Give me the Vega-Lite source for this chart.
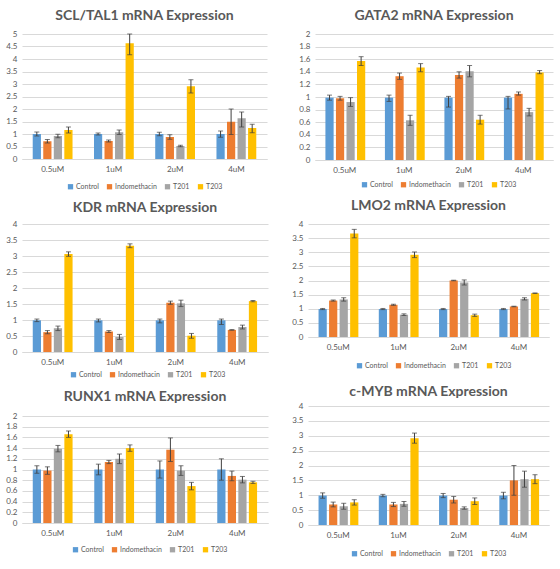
{
 "$schema": "https://vega.github.io/schema/vega-lite/v6.json",
 "background": "white",
 "padding": {"left": 5, "top": 9, "right": 5, "bottom": 0},
 "datasets": {
  "expr": [
   {"gene":"SCL/TAL1","dose":"0.5uM","treatment":"Control","value":1.00,"lo":0.92,"hi":1.08},
   {"gene":"SCL/TAL1","dose":"0.5uM","treatment":"Indomethacin","value":0.71,"lo":0.64,"hi":0.78},
   {"gene":"SCL/TAL1","dose":"0.5uM","treatment":"T201","value":0.92,"lo":0.85,"hi":0.99},
   {"gene":"SCL/TAL1","dose":"0.5uM","treatment":"T203","value":1.16,"lo":1.04,"hi":1.28},
   {"gene":"SCL/TAL1","dose":"1uM","treatment":"Control","value":1.00,"lo":0.96,"hi":1.04},
   {"gene":"SCL/TAL1","dose":"1uM","treatment":"Indomethacin","value":0.72,"lo":0.68,"hi":0.76},
   {"gene":"SCL/TAL1","dose":"1uM","treatment":"T201","value":1.07,"lo":0.98,"hi":1.16},
   {"gene":"SCL/TAL1","dose":"1uM","treatment":"T203","value":4.63,"lo":4.17,"hi":5.0},
   {"gene":"SCL/TAL1","dose":"2uM","treatment":"Control","value":1.00,"lo":0.93,"hi":1.07},
   {"gene":"SCL/TAL1","dose":"2uM","treatment":"Indomethacin","value":0.88,"lo":0.79,"hi":0.97},
   {"gene":"SCL/TAL1","dose":"2uM","treatment":"T201","value":0.52,"lo":0.49,"hi":0.55},
   {"gene":"SCL/TAL1","dose":"2uM","treatment":"T203","value":2.91,"lo":2.64,"hi":3.17},
   {"gene":"SCL/TAL1","dose":"4uM","treatment":"Control","value":1.00,"lo":0.87,"hi":1.12},
   {"gene":"SCL/TAL1","dose":"4uM","treatment":"Indomethacin","value":1.49,"lo":0.98,"hi":2.0},
   {"gene":"SCL/TAL1","dose":"4uM","treatment":"T201","value":1.63,"lo":1.28,"hi":1.88},
   {"gene":"SCL/TAL1","dose":"4uM","treatment":"T203","value":1.24,"lo":1.05,"hi":1.39},

   {"gene":"GATA2","dose":"0.5uM","treatment":"Control","value":0.99,"lo":0.95,"hi":1.03},
   {"gene":"GATA2","dose":"0.5uM","treatment":"Indomethacin","value":0.98,"lo":0.95,"hi":1.01},
   {"gene":"GATA2","dose":"0.5uM","treatment":"T201","value":0.92,"lo":0.85,"hi":0.99},
   {"gene":"GATA2","dose":"0.5uM","treatment":"T203","value":1.57,"lo":1.50,"hi":1.64},
   {"gene":"GATA2","dose":"1uM","treatment":"Control","value":0.99,"lo":0.93,"hi":1.03},
   {"gene":"GATA2","dose":"1uM","treatment":"Indomethacin","value":1.33,"lo":1.28,"hi":1.38},
   {"gene":"GATA2","dose":"1uM","treatment":"T201","value":0.63,"lo":0.55,"hi":0.71},
   {"gene":"GATA2","dose":"1uM","treatment":"T203","value":1.47,"lo":1.40,"hi":1.53},
   {"gene":"GATA2","dose":"2uM","treatment":"Control","value":0.99,"lo":0.84,"hi":1.01},
   {"gene":"GATA2","dose":"2uM","treatment":"Indomethacin","value":1.35,"lo":1.30,"hi":1.40},
   {"gene":"GATA2","dose":"2uM","treatment":"T201","value":1.41,"lo":1.32,"hi":1.50},
   {"gene":"GATA2","dose":"2uM","treatment":"T203","value":0.64,"lo":0.57,"hi":0.71},
   {"gene":"GATA2","dose":"4uM","treatment":"Control","value":0.99,"lo":0.81,"hi":1.01},
   {"gene":"GATA2","dose":"4uM","treatment":"Indomethacin","value":1.05,"lo":1.03,"hi":1.08},
   {"gene":"GATA2","dose":"4uM","treatment":"T201","value":0.76,"lo":0.70,"hi":0.82},
   {"gene":"GATA2","dose":"4uM","treatment":"T203","value":1.39,"lo":1.37,"hi":1.42},

   {"gene":"KDR","dose":"0.5uM","treatment":"Control","value":0.99,"lo":0.95,"hi":1.03},
   {"gene":"KDR","dose":"0.5uM","treatment":"Indomethacin","value":0.62,"lo":0.57,"hi":0.67},
   {"gene":"KDR","dose":"0.5uM","treatment":"T201","value":0.74,"lo":0.67,"hi":0.81},
   {"gene":"KDR","dose":"0.5uM","treatment":"T203","value":3.06,"lo":2.99,"hi":3.13},
   {"gene":"KDR","dose":"1uM","treatment":"Control","value":0.99,"lo":0.94,"hi":1.03},
   {"gene":"KDR","dose":"1uM","treatment":"Indomethacin","value":0.64,"lo":0.61,"hi":0.67},
   {"gene":"KDR","dose":"1uM","treatment":"T201","value":0.47,"lo":0.39,"hi":0.55},
   {"gene":"KDR","dose":"1uM","treatment":"T203","value":3.32,"lo":3.26,"hi":3.38},
   {"gene":"KDR","dose":"2uM","treatment":"Control","value":0.99,"lo":0.91,"hi":1.03},
   {"gene":"KDR","dose":"2uM","treatment":"Indomethacin","value":1.54,"lo":1.49,"hi":1.59},
   {"gene":"KDR","dose":"2uM","treatment":"T201","value":1.52,"lo":1.42,"hi":1.62},
   {"gene":"KDR","dose":"2uM","treatment":"T203","value":0.51,"lo":0.43,"hi":0.58},
   {"gene":"KDR","dose":"4uM","treatment":"Control","value":0.99,"lo":0.86,"hi":1.03},
   {"gene":"KDR","dose":"4uM","treatment":"Indomethacin","value":0.69,"lo":0.68,"hi":0.70},
   {"gene":"KDR","dose":"4uM","treatment":"T201","value":0.78,"lo":0.72,"hi":0.84},
   {"gene":"KDR","dose":"4uM","treatment":"T203","value":1.59,"lo":1.57,"hi":1.61},

   {"gene":"LMO2","dose":"0.5uM","treatment":"Control","value":0.99,"lo":0.97,"hi":1.01},
   {"gene":"LMO2","dose":"0.5uM","treatment":"Indomethacin","value":1.29,"lo":1.27,"hi":1.31},
   {"gene":"LMO2","dose":"0.5uM","treatment":"T201","value":1.33,"lo":1.27,"hi":1.39},
   {"gene":"LMO2","dose":"0.5uM","treatment":"T203","value":3.66,"lo":3.51,"hi":3.81},
   {"gene":"LMO2","dose":"1uM","treatment":"Control","value":0.99,"lo":0.97,"hi":1.01},
   {"gene":"LMO2","dose":"1uM","treatment":"Indomethacin","value":1.14,"lo":1.12,"hi":1.16},
   {"gene":"LMO2","dose":"1uM","treatment":"T201","value":0.79,"lo":0.76,"hi":0.82},
   {"gene":"LMO2","dose":"1uM","treatment":"T203","value":2.91,"lo":2.81,"hi":3.01},
   {"gene":"LMO2","dose":"2uM","treatment":"Control","value":0.99,"lo":0.97,"hi":1.01},
   {"gene":"LMO2","dose":"2uM","treatment":"Indomethacin","value":2.00,"lo":1.99,"hi":2.01},
   {"gene":"LMO2","dose":"2uM","treatment":"T201","value":1.93,"lo":1.84,"hi":2.02},
   {"gene":"LMO2","dose":"2uM","treatment":"T203","value":0.77,"lo":0.73,"hi":0.81},
   {"gene":"LMO2","dose":"4uM","treatment":"Control","value":0.99,"lo":0.97,"hi":1.01},
   {"gene":"LMO2","dose":"4uM","treatment":"Indomethacin","value":1.08,"lo":1.07,"hi":1.09},
   {"gene":"LMO2","dose":"4uM","treatment":"T201","value":1.35,"lo":1.31,"hi":1.39},
   {"gene":"LMO2","dose":"4uM","treatment":"T203","value":1.55,"lo":1.54,"hi":1.56},

   {"gene":"RUNX1","dose":"0.5uM","treatment":"Control","value":1.00,"lo":0.93,"hi":1.07},
   {"gene":"RUNX1","dose":"0.5uM","treatment":"Indomethacin","value":0.98,"lo":0.91,"hi":1.05},
   {"gene":"RUNX1","dose":"0.5uM","treatment":"T201","value":1.39,"lo":1.33,"hi":1.45},
   {"gene":"RUNX1","dose":"0.5uM","treatment":"T203","value":1.66,"lo":1.60,"hi":1.72},
   {"gene":"RUNX1","dose":"1uM","treatment":"Control","value":1.00,"lo":0.90,"hi":1.10},
   {"gene":"RUNX1","dose":"1uM","treatment":"Indomethacin","value":1.14,"lo":1.11,"hi":1.17},
   {"gene":"RUNX1","dose":"1uM","treatment":"T201","value":1.20,"lo":1.11,"hi":1.29},
   {"gene":"RUNX1","dose":"1uM","treatment":"T203","value":1.40,"lo":1.34,"hi":1.46},
   {"gene":"RUNX1","dose":"2uM","treatment":"Control","value":1.00,"lo":0.84,"hi":1.16},
   {"gene":"RUNX1","dose":"2uM","treatment":"Indomethacin","value":1.37,"lo":1.15,"hi":1.59},
   {"gene":"RUNX1","dose":"2uM","treatment":"T201","value":0.98,"lo":0.89,"hi":1.07},
   {"gene":"RUNX1","dose":"2uM","treatment":"T203","value":0.69,"lo":0.62,"hi":0.76},
   {"gene":"RUNX1","dose":"4uM","treatment":"Control","value":1.00,"lo":0.80,"hi":1.20},
   {"gene":"RUNX1","dose":"4uM","treatment":"Indomethacin","value":0.88,"lo":0.79,"hi":0.97},
   {"gene":"RUNX1","dose":"4uM","treatment":"T201","value":0.81,"lo":0.75,"hi":0.87},
   {"gene":"RUNX1","dose":"4uM","treatment":"T203","value":0.76,"lo":0.74,"hi":0.78},

   {"gene":"c-MYB","dose":"0.5uM","treatment":"Control","value":0.99,"lo":0.90,"hi":1.08},
   {"gene":"c-MYB","dose":"0.5uM","treatment":"Indomethacin","value":0.69,"lo":0.61,"hi":0.77},
   {"gene":"c-MYB","dose":"0.5uM","treatment":"T201","value":0.63,"lo":0.53,"hi":0.73},
   {"gene":"c-MYB","dose":"0.5uM","treatment":"T203","value":0.76,"lo":0.67,"hi":0.85},
   {"gene":"c-MYB","dose":"1uM","treatment":"Control","value":0.99,"lo":0.95,"hi":1.03},
   {"gene":"c-MYB","dose":"1uM","treatment":"Indomethacin","value":0.69,"lo":0.62,"hi":0.76},
   {"gene":"c-MYB","dose":"1uM","treatment":"T201","value":0.71,"lo":0.63,"hi":0.79},
   {"gene":"c-MYB","dose":"1uM","treatment":"T203","value":2.92,"lo":2.75,"hi":3.09},
   {"gene":"c-MYB","dose":"2uM","treatment":"Control","value":0.99,"lo":0.92,"hi":1.06},
   {"gene":"c-MYB","dose":"2uM","treatment":"Indomethacin","value":0.85,"lo":0.74,"hi":0.96},
   {"gene":"c-MYB","dose":"2uM","treatment":"T201","value":0.57,"lo":0.53,"hi":0.61},
   {"gene":"c-MYB","dose":"2uM","treatment":"T203","value":0.80,"lo":0.69,"hi":0.91},
   {"gene":"c-MYB","dose":"4uM","treatment":"Control","value":0.99,"lo":0.88,"hi":1.10},
   {"gene":"c-MYB","dose":"4uM","treatment":"Indomethacin","value":1.50,"lo":1.00,"hi":2.00},
   {"gene":"c-MYB","dose":"4uM","treatment":"T201","value":1.54,"lo":1.27,"hi":1.81},
   {"gene":"c-MYB","dose":"4uM","treatment":"T203","value":1.54,"lo":1.39,"hi":1.69}
  ]
 },
 "config": {
  "view": {"stroke": null},
  "font": "Lato",
  "title": {"fontSize": 14, "fontWeight": "bold", "color": "#595959", "offset": 10},
  "axis": {"labelColor": "#595959", "labelFontSize": 8, "ticks": false, "gridColor": "#D9D9D9", "domainColor": "#D9D9D9"},
  "axisY": {"domain": false, "labelPadding": 5},
  "axisX": {"grid": false, "labelAngle": 0, "labelPadding": 6},
  "legend": {"orient": "none", "direction": "horizontal", "symbolType": "square", "symbolSize": 28, "symbolStrokeWidth": 0, "labelFontSize": 7, "labelColor": "#595959", "columnPadding": 7, "labelOffset": 2, "title": null},
  "rule": {"color": "#404040", "strokeWidth": 1},
  "tick": {"color": "#404040", "thickness": 1, "size": 5}
 },
 "spacing": 9,
 "resolve": {"scale": {"color": "independent", "y": "independent", "x": "independent"}, "legend": {"color": "independent"}},
 "vconcat": [
  {
   "spacing": 31,
   "resolve": {"scale": {"color": "independent", "y": "independent", "x": "independent"}, "legend": {"color": "independent"}},
   "hconcat": [
    {
     "width": 245, "height": 125,
     "title": {"text": "SCL/TAL1 mRNA Expression", "offset": 7},
     "data": {"name": "expr"},
     "transform": [{"filter": "datum.gene === 'SCL/TAL1'"}],
     "encoding": {
      "x": {"field": "dose", "type": "nominal", "sort": ["0.5uM","1uM","2uM","4uM"], "title": null, "scale": {"paddingInner": 0.35, "paddingOuter": 0.175}},
      "xOffset": {"field": "treatment", "type": "nominal", "sort": ["Control","Indomethacin","T201","T203"], "scale": {"paddingInner": 0.22}}
     },
     "layer": [
      {"mark": "bar", "encoding": {
        "y": {"field": "value", "type": "quantitative", "title": null, "scale": {"domain": [0, 5], "nice": false}, "axis": {"values": [0,0.5,1,1.5,2,2.5,3,3.5,4,4.5,5], "format": "~g"}},
        "color": {"field": "treatment", "type": "nominal", "sort": ["Control","Indomethacin","T201","T203"], "scale": {"domain": ["Control","Indomethacin","T201","T203"], "range": ["#5B9BD5","#ED7D31","#A5A5A5","#FFC000"]}, "legend": {"legendX": 45, "legendY": 149}}
      }},
      {"mark": "rule", "encoding": {"y": {"field": "lo", "type": "quantitative", "title": null, "scale": {"domain": [0, 5], "nice": false}, "axis": {"values": [0,0.5,1,1.5,2,2.5,3,3.5,4,4.5,5], "format": "~g"}}, "y2": {"field": "hi"}}},
      {"mark": "tick", "encoding": {"y": {"field": "lo", "type": "quantitative", "title": null, "scale": {"domain": [0, 5], "nice": false}, "axis": {"values": [0,0.5,1,1.5,2,2.5,3,3.5,4,4.5,5], "format": "~g"}}}},
      {"mark": "tick", "encoding": {"y": {"field": "hi", "type": "quantitative", "title": null, "scale": {"domain": [0, 5], "nice": false}, "axis": {"values": [0,0.5,1,1.5,2,2.5,3,3.5,4,4.5,5], "format": "~g"}}}}
     ]
    },
    {
     "width": 238, "height": 126,
     "title": {"text": "GATA2 mRNA Expression", "offset": 7},
     "data": {"name": "expr"},
     "transform": [{"filter": "datum.gene === 'GATA2'"}],
     "encoding": {
      "x": {"field": "dose", "type": "nominal", "sort": ["0.5uM","1uM","2uM","4uM"], "title": null, "scale": {"paddingInner": 0.35, "paddingOuter": 0.175}},
      "xOffset": {"field": "treatment", "type": "nominal", "sort": ["Control","Indomethacin","T201","T203"], "scale": {"paddingInner": 0.22}}
     },
     "layer": [
      {"mark": "bar", "encoding": {
        "y": {"field": "value", "type": "quantitative", "title": null, "scale": {"domain": [0, 2], "nice": false}, "axis": {"values": [0,0.2,0.4,0.6,0.8,1,1.2,1.4,1.6,1.8,2], "format": "~g"}},
        "color": {"field": "treatment", "type": "nominal", "sort": ["Control","Indomethacin","T201","T203"], "scale": {"domain": ["Control","Indomethacin","T201","T203"], "range": ["#5B9BD5","#ED7D31","#A5A5A5","#FFC000"]}, "legend": {"legendX": 46, "legendY": 147}}
      }},
      {"mark": "rule", "encoding": {"y": {"field": "lo", "type": "quantitative", "title": null, "scale": {"domain": [0, 2], "nice": false}, "axis": {"values": [0,0.2,0.4,0.6,0.8,1,1.2,1.4,1.6,1.8,2], "format": "~g"}}, "y2": {"field": "hi"}}},
      {"mark": "tick", "encoding": {"y": {"field": "lo", "type": "quantitative", "title": null, "scale": {"domain": [0, 2], "nice": false}, "axis": {"values": [0,0.2,0.4,0.6,0.8,1,1.2,1.4,1.6,1.8,2], "format": "~g"}}}},
      {"mark": "tick", "encoding": {"y": {"field": "hi", "type": "quantitative", "title": null, "scale": {"domain": [0, 2], "nice": false}, "axis": {"values": [0,0.2,0.4,0.6,0.8,1,1.2,1.4,1.6,1.8,2], "format": "~g"}}}}
     ]
    }
   ]
  },
  {
   "spacing": 7,
   "resolve": {"scale": {"color": "independent", "y": "independent", "x": "independent"}, "legend": {"color": "independent"}},
   "vconcat": [
    {
     "spacing": 23,
     "resolve": {"scale": {"color": "independent", "y": "independent", "x": "independent"}, "legend": {"color": "independent"}},
     "hconcat": [
      {
       "width": 246, "height": 128,
       "title": {"text": "KDR mRNA Expression", "offset": 5},
       "data": {"name": "expr"},
       "transform": [{"filter": "datum.gene === 'KDR'"}],
       "encoding": {
        "x": {"field": "dose", "type": "nominal", "sort": ["0.5uM","1uM","2uM","4uM"], "title": null, "scale": {"paddingInner": 0.35, "paddingOuter": 0.175}},
        "xOffset": {"field": "treatment", "type": "nominal", "sort": ["Control","Indomethacin","T201","T203"], "scale": {"paddingInner": 0.22}}
       },
       "layer": [
        {"mark": "bar", "encoding": {
          "y": {"field": "value", "type": "quantitative", "title": null, "scale": {"domain": [0, 4], "nice": false}, "axis": {"values": [0,0.5,1,1.5,2,2.5,3,3.5,4], "format": "~g"}},
          "color": {"field": "treatment", "type": "nominal", "sort": ["Control","Indomethacin","T201","T203"], "scale": {"domain": ["Control","Indomethacin","T201","T203"], "range": ["#5B9BD5","#ED7D31","#A5A5A5","#FFC000"]}, "legend": {"legendX": 48, "legendY": 147}}
        }},
        {"mark": "rule", "encoding": {"y": {"field": "lo", "type": "quantitative", "title": null, "scale": {"domain": [0, 4], "nice": false}, "axis": {"values": [0,0.5,1,1.5,2,2.5,3,3.5,4], "format": "~g"}}, "y2": {"field": "hi"}}},
        {"mark": "tick", "encoding": {"y": {"field": "lo", "type": "quantitative", "title": null, "scale": {"domain": [0, 4], "nice": false}, "axis": {"values": [0,0.5,1,1.5,2,2.5,3,3.5,4], "format": "~g"}}}},
        {"mark": "tick", "encoding": {"y": {"field": "hi", "type": "quantitative", "title": null, "scale": {"domain": [0, 4], "nice": false}, "axis": {"values": [0,0.5,1,1.5,2,2.5,3,3.5,4], "format": "~g"}}}}
       ]
      },
      {
       "width": 241, "height": 113,
       "title": {"text": "LMO2 mRNA Expression", "offset": 7},
       "data": {"name": "expr"},
       "transform": [{"filter": "datum.gene === 'LMO2'"}],
       "encoding": {
        "x": {"field": "dose", "type": "nominal", "sort": ["0.5uM","1uM","2uM","4uM"], "title": null, "scale": {"paddingInner": 0.35, "paddingOuter": 0.175}},
        "xOffset": {"field": "treatment", "type": "nominal", "sort": ["Control","Indomethacin","T201","T203"], "scale": {"paddingInner": 0.22}}
       },
       "layer": [
        {"mark": "bar", "encoding": {
          "y": {"field": "value", "type": "quantitative", "title": null, "scale": {"domain": [0, 4], "nice": false}, "axis": {"values": [0,0.5,1,1.5,2,2.5,3,3.5,4], "format": "~g"}},
          "color": {"field": "treatment", "type": "nominal", "sort": ["Control","Indomethacin","T201","T203"], "scale": {"domain": ["Control","Indomethacin","T201","T203"], "range": ["#5B9BD5","#ED7D31","#A5A5A5","#FFC000"]}, "legend": {"legendX": 48, "legendY": 138}}
        }},
        {"mark": "rule", "encoding": {"y": {"field": "lo", "type": "quantitative", "title": null, "scale": {"domain": [0, 4], "nice": false}, "axis": {"values": [0,0.5,1,1.5,2,2.5,3,3.5,4], "format": "~g"}}, "y2": {"field": "hi"}}},
        {"mark": "tick", "encoding": {"y": {"field": "lo", "type": "quantitative", "title": null, "scale": {"domain": [0, 4], "nice": false}, "axis": {"values": [0,0.5,1,1.5,2,2.5,3,3.5,4], "format": "~g"}}}},
        {"mark": "tick", "encoding": {"y": {"field": "hi", "type": "quantitative", "title": null, "scale": {"domain": [0, 4], "nice": false}, "axis": {"values": [0,0.5,1,1.5,2,2.5,3,3.5,4], "format": "~g"}}}}
       ]
      }
     ]
    },
    {
     "spacing": 23,
     "resolve": {"scale": {"color": "independent", "y": "independent", "x": "independent"}, "legend": {"color": "independent"}},
     "hconcat": [
      {
       "width": 246, "height": 117,
       "title": {"text": "RUNX1 mRNA Expression", "offset": 2},
       "data": {"name": "expr"},
       "transform": [{"filter": "datum.gene === 'RUNX1'"}],
       "encoding": {
        "x": {"field": "dose", "type": "nominal", "sort": ["0.5uM","1uM","2uM","4uM"], "title": null, "scale": {"paddingInner": 0.35, "paddingOuter": 0.175}},
        "xOffset": {"field": "treatment", "type": "nominal", "sort": ["Control","Indomethacin","T201","T203"], "scale": {"paddingInner": 0.22}}
       },
       "layer": [
        {"mark": "bar", "encoding": {
          "y": {"field": "value", "type": "quantitative", "title": null, "scale": {"domain": [0, 2.187], "nice": false}, "axis": {"values": [0,0.2,0.4,0.6,0.8,1,1.2,1.4,1.6,1.8,2], "format": "~g"}},
          "color": {"field": "treatment", "type": "nominal", "sort": ["Control","Indomethacin","T201","T203"], "scale": {"domain": ["Control","Indomethacin","T201","T203"], "range": ["#5B9BD5","#ED7D31","#A5A5A5","#FFC000"]}, "legend": {"legendX": 50, "legendY": 140}}
        }},
        {"mark": "rule", "encoding": {"y": {"field": "lo", "type": "quantitative", "title": null, "scale": {"domain": [0, 2.187], "nice": false}, "axis": {"values": [0,0.2,0.4,0.6,0.8,1,1.2,1.4,1.6,1.8,2], "format": "~g"}}, "y2": {"field": "hi"}}},
        {"mark": "tick", "encoding": {"y": {"field": "lo", "type": "quantitative", "title": null, "scale": {"domain": [0, 2.187], "nice": false}, "axis": {"values": [0,0.2,0.4,0.6,0.8,1,1.2,1.4,1.6,1.8,2], "format": "~g"}}}},
        {"mark": "tick", "encoding": {"y": {"field": "hi", "type": "quantitative", "title": null, "scale": {"domain": [0, 2.187], "nice": false}, "axis": {"values": [0,0.2,0.4,0.6,0.8,1,1.2,1.4,1.6,1.8,2], "format": "~g"}}}}
       ]
      },
      {
       "width": 241, "height": 119,
       "title": {"text": "c-MYB mRNA Expression", "offset": 3},
       "data": {"name": "expr"},
       "transform": [{"filter": "datum.gene === 'c-MYB'"}],
       "encoding": {
        "x": {"field": "dose", "type": "nominal", "sort": ["0.5uM","1uM","2uM","4uM"], "title": null, "scale": {"paddingInner": 0.35, "paddingOuter": 0.175}},
        "xOffset": {"field": "treatment", "type": "nominal", "sort": ["Control","Indomethacin","T201","T203"], "scale": {"paddingInner": 0.22}}
       },
       "layer": [
        {"mark": "bar", "encoding": {
          "y": {"field": "value", "type": "quantitative", "title": null, "scale": {"domain": [0, 4], "nice": false}, "axis": {"values": [0,0.5,1,1.5,2,2.5,3,3.5,4], "format": "~g"}},
          "color": {"field": "treatment", "type": "nominal", "sort": ["Control","Indomethacin","T201","T203"], "scale": {"domain": ["Control","Indomethacin","T201","T203"], "range": ["#5B9BD5","#ED7D31","#A5A5A5","#FFC000"]}, "legend": {"legendX": 43, "legendY": 144}}
        }},
        {"mark": "rule", "encoding": {"y": {"field": "lo", "type": "quantitative", "title": null, "scale": {"domain": [0, 4], "nice": false}, "axis": {"values": [0,0.5,1,1.5,2,2.5,3,3.5,4], "format": "~g"}}, "y2": {"field": "hi"}}},
        {"mark": "tick", "encoding": {"y": {"field": "lo", "type": "quantitative", "title": null, "scale": {"domain": [0, 4], "nice": false}, "axis": {"values": [0,0.5,1,1.5,2,2.5,3,3.5,4], "format": "~g"}}}},
        {"mark": "tick", "encoding": {"y": {"field": "hi", "type": "quantitative", "title": null, "scale": {"domain": [0, 4], "nice": false}, "axis": {"values": [0,0.5,1,1.5,2,2.5,3,3.5,4], "format": "~g"}}}}
       ]
      }
     ]
    }
   ]
  }
 ]
}
